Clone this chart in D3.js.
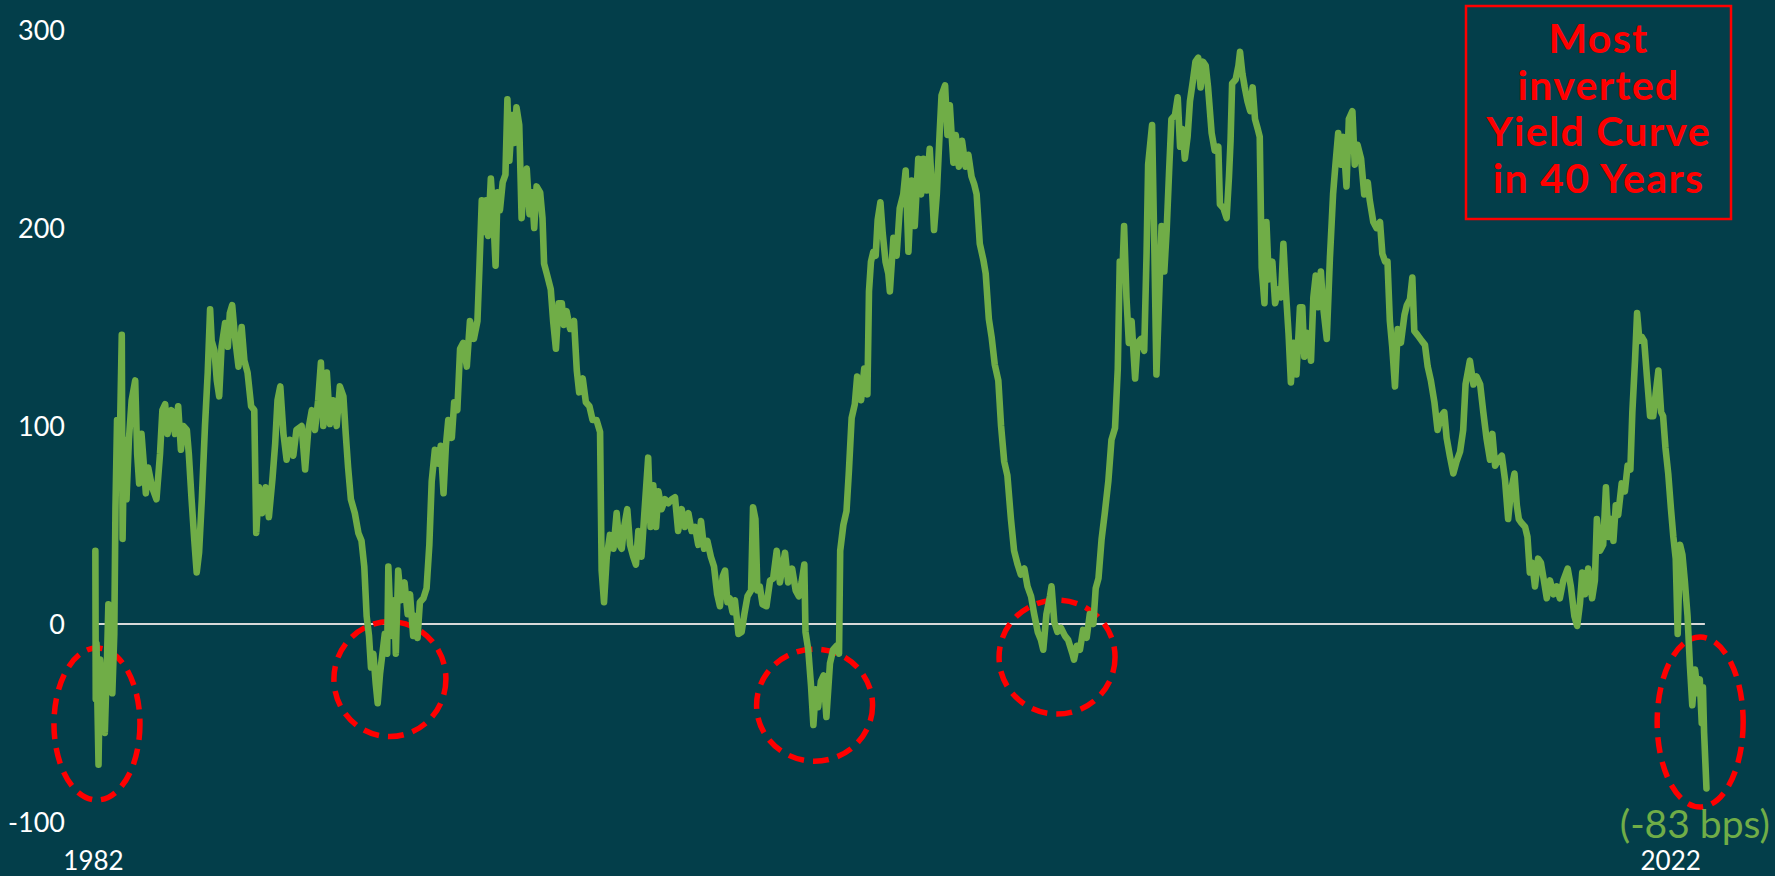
<!DOCTYPE html>
<html><head><meta charset="utf-8">
<script src="https://cdn.jsdelivr.net/npm/d3@7"></script>
<style>html,body{margin:0;padding:0;background:#033E4A;overflow:hidden}</style>
</head><body><svg id="chart" width="1775" height="876"></svg>
<script>
// ---- data (10y-2y spread, bps) ----
const yTicks = [-100, 0, 100, 200, 300];
const xTickYears = [1982, 2022];
const xTickLabels = ["1982", "2022"];
const calloutLines = ["Most", "inverted", "Yield Curve", "in 40 Years"];
const endLabel = "(-83 bps)";
const inversionYears = [1982.1, 1989.53, 2000.30, 2006.45, 2022.76];
const inversionBps = [-50.5, -27.8, -41, -16.7, -49.5];
const spread = [
[1982.06,37],[1982.07,-38],[1982.09,-10],[1982.11,-38],[1982.14,-71],[1982.18,-18],[1982.24,-35],[1982.30,-55],[1982.35,-22],[1982.39,10],[1982.44,-13],[1982.49,-35],[1982.54,-5],[1982.57,59],[1982.61,103],[1982.66,69],[1982.69,103],[1982.73,146],[1982.75,43],[1982.79,93],[1982.85,63],[1982.91,93],[1982.98,113],
[1983.07,123],[1983.12,86],[1983.17,71],[1983.23,96],[1983.28,83],[1983.34,66],[1983.40,79],[1983.50,69],[1983.61,63],[1983.70,86],[1983.76,108],[1983.83,111],[1983.89,96],[1983.99,108],
[1984.08,96],[1984.16,110],[1984.23,88],[1984.29,100],[1984.38,98],[1984.43,86],[1984.50,63],[1984.57,42],[1984.63,26],[1984.69,36],[1984.76,63],[1984.84,100],[1984.91,127],[1984.97,159],
[1985.01,143],[1985.08,138],[1985.14,123],[1985.20,115],[1985.26,140],[1985.35,152],[1985.42,140],[1985.47,157],[1985.53,161],[1985.60,145],[1985.69,130],[1985.77,150],[1985.84,133],[1985.92,127],
[1986.01,110],[1986.09,108],[1986.14,46],[1986.21,69],[1986.29,56],[1986.38,69],[1986.46,54],[1986.55,73],[1986.62,91],[1986.68,113],[1986.75,120],[1986.83,96],[1986.91,83],[1986.99,93],
[1987.08,85],[1987.16,98],[1987.29,100],[1987.38,78],[1987.46,98],[1987.55,108],[1987.63,98],[1987.71,113],[1987.78,132],[1987.84,100],[1987.93,127],
[1988.01,101],[1988.09,113],[1988.18,100],[1988.26,120],[1988.35,115],[1988.41,96],[1988.47,79],[1988.54,63],[1988.64,56],[1988.73,46],[1988.81,42],[1988.88,29],[1988.94,4],
[1989.00,-6],[1989.05,-22],[1989.11,-15],[1989.17,-30],[1989.22,-40],[1989.28,-25],[1989.34,-15],[1989.40,-5],[1989.46,-15],[1989.49,29],[1989.54,4],[1989.59,-6],[1989.64,12],[1989.68,-15],[1989.74,27],[1989.81,12],[1989.90,21],[1989.98,5],
[1990.04,15],[1990.12,-6],[1990.17,4],[1990.23,-7],[1990.29,11],[1990.38,13],[1990.46,18],[1990.53,40],[1990.59,72],[1990.67,88],[1990.76,81],[1990.82,90],[1990.89,66],[1990.95,90],
[1991.01,103],[1991.10,94],[1991.16,112],[1991.24,108],[1991.31,139],[1991.39,142],[1991.48,130],[1991.56,153],[1991.66,144],[1991.75,153],[1991.80,180],[1991.86,214],[1991.92,198],[1991.97,214],
[1992.02,196],[1992.09,225],[1992.15,207],[1992.21,181],[1992.26,218],[1992.32,209],[1992.39,223],[1992.46,227],[1992.51,265],[1992.56,234],[1992.63,257],[1992.69,243],[1992.74,261],[1992.81,252],[1992.87,205],[1992.93,223],
[1993.00,230],[1993.07,207],[1993.13,218],[1993.19,200],[1993.25,221],[1993.34,218],[1993.40,205],[1993.44,182],[1993.52,176],[1993.61,169],[1993.67,153],[1993.74,139],[1993.81,162],[1993.89,162],[1993.94,151],
[1994.01,158],[1994.10,149],[1994.20,153],[1994.27,128],[1994.33,117],[1994.42,124],[1994.50,112],[1994.59,110],[1994.67,103],[1994.77,103],[1994.86,97],[1994.90,27],[1994.96,11],
[1995.03,34],[1995.11,45],[1995.20,38],[1995.28,56],[1995.35,40],[1995.41,38],[1995.47,49],[1995.55,58],[1995.62,40],[1995.70,34],[1995.77,30],[1995.83,47],[1995.91,34],[1995.99,58],
[1996.08,84],[1996.14,49],[1996.21,70],[1996.28,49],[1996.34,67],[1996.42,58],[1996.51,63],[1996.59,61],[1996.68,63],[1996.76,64],[1996.84,47],[1996.93,58],
[1997.01,49],[1997.10,56],[1997.18,47],[1997.27,49],[1997.35,40],[1997.42,52],[1997.50,38],[1997.58,42],[1997.67,34],[1997.75,29],[1997.83,15],[1997.90,9],[1997.97,24],
[1998.03,27],[1998.09,11],[1998.15,13],[1998.22,6],[1998.28,12],[1998.37,-5],[1998.45,-4],[1998.52,5],[1998.60,14],[1998.69,17],[1998.74,59],[1998.80,53],[1998.85,17],[1998.91,19],[1998.98,10],
[1999.08,9],[1999.17,22],[1999.25,23],[1999.34,37],[1999.42,21],[1999.55,36],[1999.63,21],[1999.73,28],[1999.82,17],[1999.90,14],[1999.97,21],
[2000.04,30],[2000.07,-4],[2000.14,-13],[2000.21,-31],[2000.27,-51],[2000.33,-33],[2000.39,-42],[2000.46,-29],[2000.53,-26],[2000.60,-47],[2000.69,-20],[2000.77,-13],[2000.86,-11],[2000.92,-15],[2000.95,37],
[2001.03,50],[2001.11,57],[2001.17,77],[2001.24,104],[2001.32,111],[2001.38,125],[2001.48,113],[2001.56,129],[2001.64,116],[2001.68,168],[2001.73,183],[2001.79,188],[2001.85,186],[2001.90,204],[2001.97,213],
[2002.03,197],[2002.10,183],[2002.17,177],[2002.21,168],[2002.30,195],[2002.38,186],[2002.46,210],[2002.55,217],[2002.61,229],[2002.68,188],[2002.76,224],[2002.84,201],[2002.93,235],
[2003.00,217],[2003.06,235],[2003.14,219],[2003.22,240],[2003.28,219],[2003.33,199],[2003.40,217],[2003.47,247],[2003.52,267],[2003.61,272],[2003.67,247],[2003.73,262],[2003.82,233],[2003.88,247],[2003.96,231],
[2004.04,244],[2004.13,231],[2004.20,237],[2004.28,226],[2004.35,222],[2004.41,217],[2004.49,192],[2004.58,184],[2004.64,177],[2004.72,154],[2004.79,145],[2004.87,131],[2004.96,123],
[2005.03,100],[2005.11,82],[2005.19,75],[2005.28,53],[2005.36,37],[2005.45,30],[2005.53,25],[2005.62,28],[2005.70,19],[2005.79,14],[2005.87,5],[2005.96,-4],
[2006.04,-8],[2006.10,-13],[2006.18,5],[2006.27,14],[2006.31,19],[2006.38,1],[2006.46,-4],[2006.55,-2],[2006.65,-6],[2006.73,-8],[2006.84,-15],[2006.88,-18],[2006.95,-11],
[2007.03,-13],[2007.11,-3],[2007.20,-7],[2007.28,5],[2007.37,0],[2007.43,18],[2007.50,23],[2007.58,43],[2007.66,56],[2007.75,72],[2007.83,93],[2007.92,99],[2007.99,129],
[2008.04,183],[2008.10,174],[2008.15,201],[2008.21,165],[2008.27,142],[2008.34,153],[2008.43,124],[2008.49,142],[2008.58,144],[2008.66,138],[2008.72,187],[2008.76,232],[2008.86,252],[2008.92,187],[2008.97,126],
[2009.03,160],[2009.10,201],[2009.17,178],[2009.23,199],[2009.29,228],[2009.35,255],[2009.44,257],[2009.51,266],[2009.57,241],[2009.63,250],[2009.69,235],[2009.76,246],[2009.82,264],[2009.90,275],[2009.96,284],
[2010.03,286],[2010.09,271],[2010.15,284],[2010.22,282],[2010.28,271],[2010.37,248],[2010.45,239],[2010.54,241],[2010.58,212],[2010.67,210],[2010.75,205],[2010.81,226],[2010.85,244],[2010.89,273],[2010.98,275],
[2011.05,282],[2011.09,289],[2011.15,278],[2011.21,271],[2011.28,264],[2011.35,259],[2011.41,271],[2011.47,255],[2011.54,250],[2011.59,246],[2011.64,180],[2011.71,162],[2011.76,203],[2011.82,174],[2011.91,183],[2011.98,162],
[2012.06,169],[2012.13,165],[2012.19,192],[2012.25,169],[2012.32,147],[2012.38,122],[2012.45,142],[2012.52,126],[2012.61,160],[2012.67,160],[2012.72,135],[2012.80,147],[2012.89,133],[2012.95,165],
[2013.01,176],[2013.07,160],[2013.14,178],[2013.20,160],[2013.29,144],[2013.37,185],[2013.45,217],[2013.51,232],[2013.58,248],[2013.65,232],[2013.71,246],[2013.79,221],[2013.85,255],[2013.94,259],
[2014.00,232],[2014.07,242],[2014.16,235],[2014.24,217],[2014.33,223],[2014.38,214],[2014.47,203],[2014.55,200],[2014.64,203],[2014.70,187],[2014.77,183],[2014.83,183],[2014.89,153],[2014.95,140],
[2015.02,120],[2015.09,149],[2015.17,142],[2015.26,156],[2015.32,161],[2015.40,164],[2015.46,175],[2015.51,148],[2015.59,146],[2015.70,143],[2015.78,141],[2015.85,130],[2015.93,123],
[2016.02,112],[2016.10,98],[2016.19,105],[2016.27,107],[2016.33,94],[2016.41,85],[2016.50,76],[2016.58,82],[2016.67,87],[2016.75,98],[2016.81,121],[2016.92,133],
[2017.01,121],[2017.09,125],[2017.18,121],[2017.26,107],[2017.34,94],[2017.43,83],[2017.49,96],[2017.56,80],[2017.64,83],[2017.73,85],[2017.81,73],[2017.89,53],[2017.96,67],
[2018.05,76],[2018.11,60],[2018.16,53],[2018.23,51],[2018.32,49],[2018.38,44],[2018.44,26],[2018.50,31],[2018.57,19],[2018.65,33],[2018.72,31],[2018.78,24],[2018.87,13],[2018.95,22],
[2019.04,15],[2019.12,19],[2019.20,13],[2019.29,22],[2019.40,28],[2019.48,19],[2019.57,4],[2019.64,-1],[2019.71,10],[2019.77,26],[2019.84,15],[2019.92,28],
[2020.02,13],[2020.09,22],[2020.14,53],[2020.22,37],[2020.30,40],[2020.37,69],[2020.43,44],[2020.50,53],[2020.56,42],[2020.62,60],[2020.68,55],[2020.77,71],[2020.85,67],[2020.92,80],[2020.99,78],
[2021.04,107],[2021.11,134],[2021.16,157],[2021.22,143],[2021.28,145],[2021.34,143],[2021.41,125],[2021.49,105],[2021.57,105],[2021.63,116],[2021.70,128],[2021.77,107],[2021.82,105],[2021.88,89],[2021.95,76],
[2022.02,58],[2022.08,44],[2022.14,33],[2022.19,-5],[2022.25,40],[2022.31,35],[2022.37,22],[2022.44,4],[2022.50,-21],[2022.56,-41],[2022.63,-23],[2022.70,-35],[2022.75,-28],[2022.80,-50],[2022.83,-32],[2022.86,-55],[2022.92,-83]
];

// ---- drawing ----
const W = 1775, H = 876;
const svg = d3.select("#chart");
const font = "Lato, 'Open Sans', sans-serif";
svg.append("rect").attr("width", W).attr("height", H).attr("fill", "#033E4A");

const x = d3.scaleLinear().domain([1982, 2023]).range([93, 93 + 41 * 39.43]);
const y = d3.scaleLinear().domain([-100, 300]).range([822, 30]);

// y axis labels
const yAxis = svg.append("g").attr("transform", "translate(65,0)")
  .call(d3.axisLeft(y).tickValues(yTicks).tickFormat(d => String(d)).tickSize(0).tickPadding(0));
yAxis.select(".domain").remove();
yAxis.selectAll("text").attr("font-family", font).attr("font-size", 27).attr("fill", "#ffffff").attr("dy", "0.35em");

// x axis labels
const xAxis = svg.append("g").attr("transform", "translate(0,849)")
  .call(d3.axisBottom(x).tickValues(xTickYears).tickFormat((d, i) => xTickLabels[i]).tickSize(0).tickPadding(3));
xAxis.select(".domain").remove();
xAxis.selectAll("text").attr("font-family", font).attr("font-size", 26).attr("fill", "#ffffff");

// zero line
svg.append("line")
  .attr("x1", x(1982.1)).attr("x2", x(2022.88))
  .attr("y1", y(0)).attr("y2", y(0))
  .attr("stroke", "#D9D9D9").attr("stroke-width", 2.2);

// red dashed ellipses
const ringRx = [43, 56, 58, 58, 43], ringRy = [76, 57.5, 56, 57, 85];
svg.append("g").selectAll("ellipse").data(inversionYears).join("ellipse")
  .attr("cx", d => x(d)).attr("cy", (d, i) => y(inversionBps[i]))
  .attr("rx", (d, i) => ringRx[i]).attr("ry", (d, i) => ringRy[i])
  .attr("fill", "none").attr("stroke", "#FF0000").attr("stroke-width", 5.5)
  .attr("stroke-dasharray", "16 9");

// series line
const line = d3.line().x(d => x(d[0])).y(d => y(d[1]));
svg.append("path").datum(spread)
  .attr("d", line).attr("fill", "none")
  .attr("stroke", "#70AD47").attr("stroke-width", 6.6)
  .attr("stroke-linejoin", "round").attr("stroke-linecap", "round");

// callout box
svg.append("rect").attr("x", 1466).attr("y", 6).attr("width", 265).attr("height", 213)
  .attr("fill", "none").attr("stroke", "#FF0000").attr("stroke-width", 2.5);
svg.append("g").selectAll("text").data(calloutLines).join("text")
  .attr("x", 1598.5).attr("y", (d, i) => 53 + i * 46.5)
  .attr("text-anchor", "middle").attr("font-family", font).attr("font-weight", 700)
  .attr("font-size", 41).attr("fill", "#FF0000").attr("letter-spacing", 1.3)
  .text(d => d);

// end label
svg.append("text").attr("x", 1770).attr("y", 838).attr("text-anchor", "end")
  .attr("font-family", font).attr("font-weight", 400).attr("font-size", 39)
  .attr("fill", "#70AD47").text(endLabel);
</script></body></html>
